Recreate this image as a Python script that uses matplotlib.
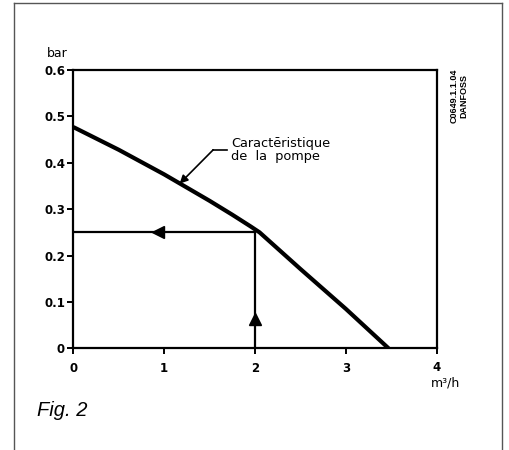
import numpy as np
import matplotlib.pyplot as plt
from matplotlib.lines import Line2D

# Courbe caracteristique de la pompe
debit = [0.0, 0.5, 1.0, 1.5, 1.75, 1.95, 2.05, 2.5, 3.0, 3.47]
pression = [0.477, 0.428, 0.375, 0.318, 0.288, 0.263, 0.250, 0.171, 0.085, 0.0]

# Point de fonctionnement
q_point = 2.0
p_point = 0.25

x_ticks = [0, 1, 2, 3, 4]
y_ticks = [0, 0.1, 0.2, 0.3, 0.4, 0.5, 0.6]
y_labels = ['0', '0.1', '0.2', '0.3', '0.4', '0.5', '0.6']

police = 'DejaVu Sans'

fig = plt.figure(figsize=(5.1, 4.5), dpi=100)
ax = fig.add_axes([0.1438, 0.226, 0.7124, 0.6184])

# cadre gris autour de la figure
bord = dict(color='#555555', lw=1.0, transform=fig.transFigure)
fig.add_artist(Line2D([14/510, 14/510], [0, 1 - 3/450], **bord))
fig.add_artist(Line2D([14/510, 502/510], [1 - 3/450, 1 - 3/450], **bord))
fig.add_artist(Line2D([502/510, 502/510], [0, 1 - 3/450], **bord))

ax.plot(debit, pression, color='black', lw=3.0, solid_capstyle='butt',
        solid_joinstyle='round', zorder=3)

# lignes de lecture
ax.plot([0, q_point], [p_point, p_point], color='black', lw=1.6, zorder=2)
ax.plot([q_point, q_point], [0, p_point], color='black', lw=1.6, zorder=2)
ax.plot([0.93], [p_point], marker='<', color='black', markersize=8, zorder=4)
ax.plot([q_point], [0.063], marker='^', color='black', markersize=8, zorder=4)

# annotation de la courbe
ax.plot([1.54, 1.69], [0.428, 0.428], color='black', lw=1.2)
ax.annotate('', xy=(1.17, 0.355), xytext=(1.54, 0.428),
            arrowprops=dict(arrowstyle='-|>', color='black', lw=1.2,
                            mutation_scale=12, shrinkA=0, shrinkB=0))
ax.text(1.74, 0.428, 'Caractēristique\nde  la  pompe', fontsize=9.3,
        ha='left', va='center', linespacing=0.95, family=police)

ax.set_xlim(0, 4)
ax.set_ylim(0, 0.6)
ax.set_xticks(x_ticks)
ax.set_xticklabels(['0', '1', '2', '3', ''])
ax.set_yticks(y_ticks)
ax.set_yticklabels(y_labels)
for lab in ax.get_xticklabels() + ax.get_yticklabels():
    lab.set_family(police)
    lab.set_fontweight('bold')
for s in ax.spines.values():
    s.set_linewidth(1.6)
ax.tick_params(direction='out', length=4, width=1.4, labelsize=8.5)
ax.tick_params(axis='x', pad=6)
ax.tick_params(axis='y', pad=2)

ax.text(4.0, -0.042, '4', fontsize=8.5, fontweight='bold', ha='center',
        va='center', family=police)
ax.text(4.1, -0.075, 'm³/h', fontsize=9, ha='center', va='center', family=police)
ax.text(-0.06, 0.636, 'bar', fontsize=9, ha='right', va='center', family=police)

fig.text(459/510, 1 - 96/450, 'C0649.1.1.04\nDANFOSS', rotation=90,
         fontsize=6.5, fontweight='bold', ha='center', va='center',
         family='Liberation Sans', linespacing=1.0)

fig.text(37/510, 1 - 410/450, 'Fig. 2', fontsize=14.5, style='italic',
         family='Liberation Sans', ha='left', va='center')

plt.savefig('out.png', dpi=100)
